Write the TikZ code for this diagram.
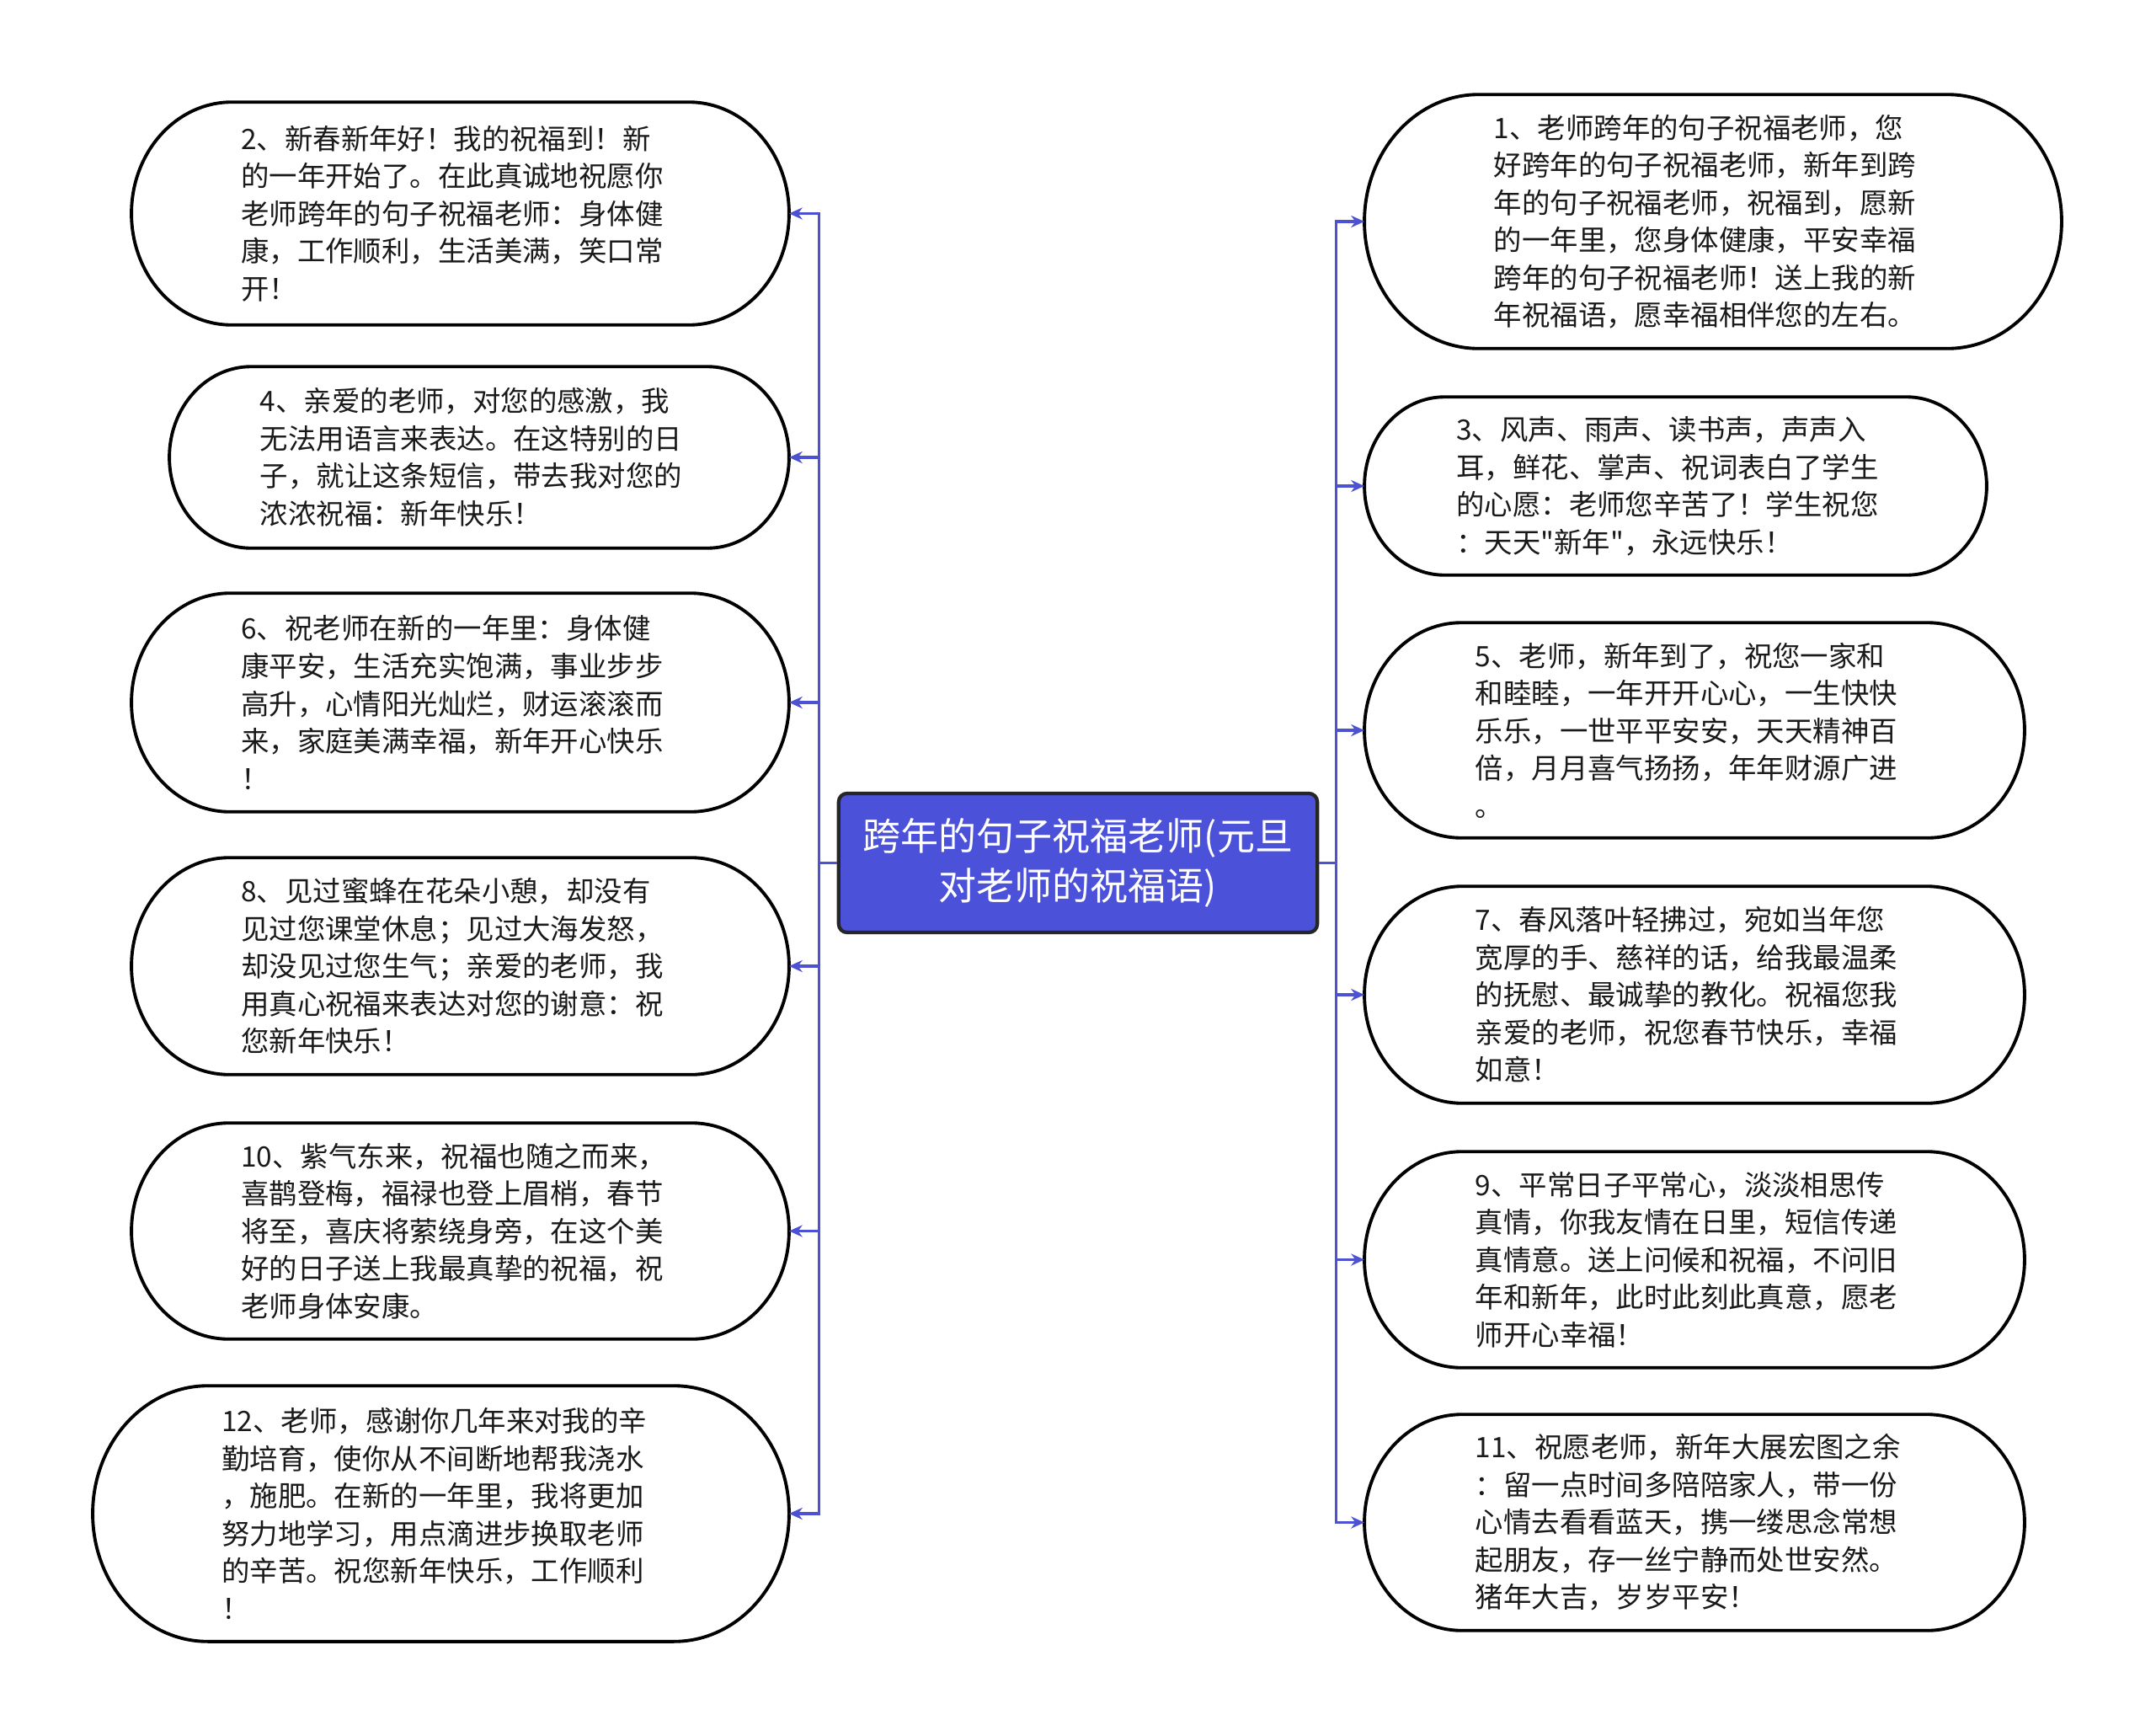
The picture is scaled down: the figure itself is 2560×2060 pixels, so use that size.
\documentclass[tikz,border=0pt]{standalone}
\usepackage{fontspec}
\setmainfont{Noto Sans CJK SC}[Ligatures=TeXOff]
\usetikzlibrary{calc,arrows.meta}
\definecolor{cblue}{HTML}{4B51D8}
\definecolor{lblue}{HTML}{4D52D2}
\newcommand\mycapsule[1]{%
 \draw[bordr] let \p1=($(#1.north east)-(#1.south west)$), \n1={0.5*\y1}, \n2={0.45*\y1} in
 ([xshift=\n2]#1.north west) -- ([xshift=-\n2]#1.north east)
 arc[start angle=90, end angle=-90, x radius=\n2, y radius=\n1]
 -- ([xshift=\n2]#1.south west)
 arc[start angle=270, end angle=90, x radius=\n2, y radius=\n1] -- cycle;}
\tikzset{
 txt/.style={inner sep=0pt, align=left, text width=5.2cm, font=\fontsize{9.5pt}{12.66pt}\selectfont, text=black!90},
 bordr/.style={draw=black, line width=1.1pt},
 hub/.style={fill=cblue, draw=black!85, line width=1.2pt, rounded corners=0.1cm, align=center, text=white,
   font=\fontsize{12.8pt}{16.8pt}\selectfont, inner sep=0pt, minimum width=5.68cm, minimum height=1.65cm},
 conn/.style={draw=lblue, line width=0.9pt, -{Stealth[length=4.5pt,width=4pt]}},
}
\begin{document}
\begin{tikzpicture}[x=0.01cm, y=-0.01cm]
\useasboundingbox[fill=white] (0,0) rectangle (2560,2060);

% left nodes
\node[txt, minimum width=7.79cm, minimum height=2.63cm] (n2) at (546.5,253.5) {2、新春新年好！我的祝福到！新\\的一年开始了。在此真诚地祝愿你\\老师跨年的句子祝福老师：身体健\\康，工作顺利，生活美满，笑口常\\开！};
\node[txt, minimum width=7.34cm, minimum height=2.14cm] (n4) at (569,543) {4、亲爱的老师，对您的感激，我\\无法用语言来表达。在这特别的日\\子，就让这条短信，带去我对您的\\浓浓祝福：新年快乐！};
\node[txt, minimum width=7.79cm, minimum height=2.58cm] (n6) at (546.5,834) {6、祝老师在新的一年里：身体健\\康平安，生活充实饱满，事业步步\\高升，心情阳光灿烂，财运滚滚而\\来，家庭美满幸福，新年开心快乐\\！};
\node[txt, minimum width=7.79cm, minimum height=2.56cm] (n8) at (546.5,1147) {8、见过蜜蜂在花朵小憩，却没有\\见过您课堂休息；见过大海发怒，\\却没见过您生气；亲爱的老师，我\\用真心祝福来表达对您的谢意：祝\\您新年快乐！};
\node[txt, minimum width=7.79cm, minimum height=2.55cm] (n10) at (546.5,1461.5) {10、紫气东来，祝福也随之而来，\\喜鹊登梅，福禄也登上眉梢，春节\\将至，喜庆将萦绕身旁，在这个美\\好的日子送上我最真挚的祝福，祝\\老师身体安康。};
\node[txt, minimum width=8.25cm, minimum height=3.02cm] (n12) at (523.5,1797) {12、老师，感谢你几年来对我的辛\\勤培育，使你从不间断地帮我浇水\\，施肥。在新的一年里，我将更加\\努力地学习，用点滴进步换取老师\\的辛苦。祝您新年快乐，工作顺利\\！};

% right nodes
\node[txt, minimum width=8.26cm, minimum height=3.00cm] (n1) at (2034,263) {1、老师跨年的句子祝福老师，您\\好跨年的句子祝福老师，新年到跨\\年的句子祝福老师，祝福到，愿新\\的一年里，您身体健康，平安幸福\\跨年的句子祝福老师！送上我的新\\年祝福语，愿幸福相伴您的左右。};
\node[txt, minimum width=7.37cm, minimum height=2.10cm] (n3) at (1989.5,577) {3、风声、雨声、读书声，声声入\\耳，鲜花、掌声、祝词表白了学生\\的心愿：老师您辛苦了！学生祝您\\：天天"新年"，永远快乐！};
\node[txt, minimum width=7.82cm, minimum height=2.54cm] (n5) at (2012,867) {5、老师，新年到了，祝您一家和\\和睦睦，一年开开心心，一生快快\\乐乐，一世平平安安，天天精神百\\倍，月月喜气扬扬，年年财源广进\\。};
\node[txt, minimum width=7.82cm, minimum height=2.56cm] (n7) at (2012,1181) {7、春风落叶轻拂过，宛如当年您\\宽厚的手、慈祥的话，给我最温柔\\的抚慰、最诚挚的教化。祝福您我\\亲爱的老师，祝您春节快乐，幸福\\如意！};
\node[txt, minimum width=7.82cm, minimum height=2.55cm] (n9) at (2012,1495.5) {9、平常日子平常心，淡淡相思传\\真情，你我友情在日里，短信传递\\真情意。送上问候和祝福，不问旧\\年和新年，此时此刻此真意，愿老\\师开心幸福！};
\node[txt, minimum width=7.82cm, minimum height=2.55cm] (n11) at (2012,1807.5) {11、祝愿老师，新年大展宏图之余\\：留一点时间多陪陪家人，带一份\\心情去看看蓝天，携一缕思念常想\\起朋友，存一丝宁静而处世安然。\\猪年大吉，岁岁平安！};

% capsule borders
\foreach \nn in {n1,n2,n3,n4,n5,n6,n7,n8,n9,n10,n11,n12} {\mycapsule{\nn}}

% center
\node[hub] (c) at (1280,1024.5) {跨年的句子祝福老师(元旦\\对老师的祝福语)};

% connectors
\foreach \nn in {n2,n4,n6,n8,n10,n12} {\draw[conn] (c.west) -- ++(-21,0) |- (\nn.east);}
\foreach \nn in {n1,n3,n5,n7,n9,n11} {\draw[conn] (c.east) -- ++(20,0) |- (\nn.west);}
\end{tikzpicture}
\end{document}
